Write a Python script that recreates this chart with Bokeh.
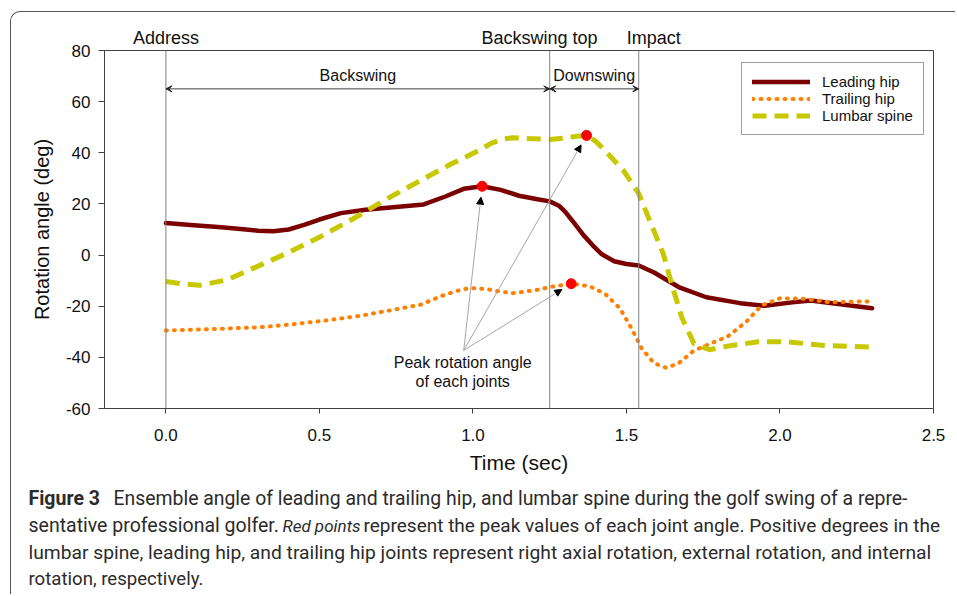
import math
from bokeh.plotting import figure
from bokeh.layouts import column
from bokeh.models import (Range1d, FixedTicker, Span, Label, Arrow, NormalHead, VeeHead,
                          Legend, LegendItem, LinearAxis)
from bokeh.embed import file_html
from bokeh.resources import INLINE

# ---------------- data ----------------
lead_t = [0.00, 0.08, 0.18, 0.26, 0.30, 0.35, 0.40, 0.45, 0.50, 0.57, 0.65, 0.74, 0.84, 0.91,
          0.97, 1.03, 1.09, 1.15, 1.21, 1.25, 1.28, 1.30, 1.33, 1.36, 1.39, 1.42, 1.46, 1.50,
          1.54, 1.59, 1.67, 1.76, 1.87, 1.95, 2.04, 2.10, 2.19, 2.30]
lead_v = [12.5, 11.8, 10.9, 10.0, 9.5, 9.3, 10.0, 11.8, 13.9, 16.4, 17.7, 18.7, 19.8, 22.9,
          25.9, 26.9, 25.5, 23.2, 21.8, 21.0, 19.3, 17.0, 12.5, 7.8, 3.8, 0.3, -2.4, -3.5,
          -4.1, -6.8, -12.5, -16.5, -18.8, -19.8, -18.5, -17.8, -19.1, -20.8]

trail_t = [0.00, 0.14, 0.31, 0.41, 0.52, 0.63, 0.74, 0.83, 0.91, 0.96, 0.99, 1.04, 1.09, 1.13,
           1.20, 1.26, 1.32, 1.38, 1.43, 1.48, 1.52, 1.55, 1.59, 1.63, 1.67, 1.72, 1.78, 1.83,
           1.89, 1.94, 2.00, 2.08, 2.16, 2.30]
trail_v = [-29.5, -29.0, -28.2, -27.1, -25.6, -23.8, -21.4, -19.4, -15.4, -13.6, -12.9, -13.2,
           -14.3, -14.9, -13.8, -12.3, -11.2, -12.2, -15.1, -21.0, -29.5, -36.6, -42.3, -44.1,
           -42.3, -37.3, -34.3, -31.8, -26.1, -19.7, -16.9, -17.1, -18.4, -18.1]

lumbar_t = [0.00, 0.05, 0.11, 0.20, 0.28, 0.39, 0.50, 0.61, 0.72, 0.83, 0.93, 1.02, 1.06, 1.10,
            1.13, 1.19, 1.25, 1.30, 1.34, 1.37, 1.40, 1.43, 1.49, 1.54, 1.58, 1.62, 1.65, 1.68,
            1.72, 1.77, 1.84, 1.93, 2.02, 2.15, 2.30]
lumbar_v = [-10.3, -11.2, -11.8, -9.7, -5.4, 0.5, 7.0, 14.2, 22.0, 29.2, 35.7, 40.9, 43.8, 45.4,
            45.9, 45.5, 45.2, 45.8, 46.5, 46.8, 44.5, 40.9, 33.1, 24.0, 12.2, 0.5, -12.5, -24.3,
            -34.7, -37.0, -35.4, -33.9, -33.9, -35.4, -36.0]

series_names = ["Leading hip", "Trailing hip", "Lumbar spine"]

peak_t = [1.03, 1.32, 1.37]
peak_v = [26.9, -11.2, 46.8]

event_names = ["Address", "Backswing top", "Impact"]
event_times = [0.0, 1.25, 1.54]
phase_names = ["Backswing", "Downswing"]

x_ticks = [0.0, 0.5, 1.0, 1.5, 2.0, 2.5]
x_tick_labels = ["0.0", "0.5", "1.0", "1.5", "2.0", "2.5"]
y_ticks = [-60, -40, -20, 0, 20, 40, 60, 80]
y_tick_labels = ["-60", "-40", "-20", "0", "20", "40", "60", "80"]

caption_bold = "Figure 3"
caption_1 = "Ensemble angle of leading and trailing hip, and lumbar spine during the golf swing of a repre-"
caption_2a = "sentative professional golfer."
caption_2b = "Red points"
caption_2c = "represent the peak values of each joint angle. Positive degrees in the"
caption_3 = "lumbar spine, leading hip, and trailing hip joints represent right axial rotation, external rotation, and internal"
caption_4 = "rotation, respectively."

peak_note = ["Peak rotation angle", "of each joints"]

# ---------------- main figure ----------------
FONT = "Liberation Sans"
TXT = "#111111"
W, H = 955, 484
FW, FH = 829, 358
ML, MT = 104, 50
MR, MB = W - ML - FW, H - MT - FH
p = figure(width=W, height=H, output_backend="svg", toolbar_location=None,
           x_range=Range1d(-0.2, 2.5), y_range=Range1d(-60, 80),
           min_border_left=ML, min_border_right=MR, min_border_top=MT, min_border_bottom=MB)
p.frame_align = False
p.background_fill_color = "white"
p.border_fill_color = "white"
p.xgrid.visible = False
p.ygrid.visible = False
p.outline_line_color = "#404040"
p.outline_line_width = 1

for ax in (p.xaxis[0], p.yaxis[0]):
    ax.axis_line_color = "#404040"
    ax.major_tick_line_color = "#404040"
    ax.minor_tick_line_color = None
    ax.major_tick_in = 0
    ax.major_label_text_font = FONT
    ax.major_label_text_font_size = "17px"
    ax.major_label_text_color = TXT
    ax.axis_label_text_font = FONT
    ax.axis_label_text_font_style = "normal"
    ax.axis_label_text_color = TXT

p.xaxis.ticker = FixedTicker(ticks=x_ticks)
p.xaxis.major_label_overrides = {t: l for t, l in zip(x_ticks, x_tick_labels)}
p.xaxis.major_tick_out = 5
p.xaxis.major_label_standoff = 15
p.xaxis.axis_label = "Time (sec)"
p.xaxis.axis_label_text_font_size = "21px"
p.xaxis.axis_label_standoff = 7

p.yaxis.ticker = FixedTicker(ticks=y_ticks)
p.yaxis.major_label_overrides = {t: l for t, l in zip(y_ticks, y_tick_labels)}
p.yaxis.major_tick_out = 6
p.yaxis.major_label_standoff = 8
p.yaxis.axis_label = "Rotation angle (deg)"
p.yaxis.axis_label_text_font_size = "20px"
p.yaxis.axis_label_standoff = 10

# event names on a bare axis above the plot (small pixel nudges as in the reference)
event_nudge_px = [0, -10, 15]
px_per_t = FW / 2.7
event_label_pos = [round(t + d / px_per_t, 3) for t, d in zip(event_times, event_nudge_px)]
top_ax = LinearAxis(ticker=FixedTicker(ticks=event_label_pos),
                    major_label_overrides={pos: n for pos, n in zip(event_label_pos, event_names)},
                    axis_line_color=None, major_tick_line_color=None, minor_tick_line_color=None,
                    major_tick_in=0, major_tick_out=0, major_label_standoff=3,
                    major_label_text_font=FONT, major_label_text_font_size="18px",
                    major_label_text_color=TXT)
p.add_layout(top_ax, "above")

# event lines
for t in event_times:
    p.add_layout(Span(location=t, dimension="height", line_color="#808080", line_width=1))

# curves
r_lead = p.line(lead_t, lead_v, line_color="#7b0000", line_width=4.5,
                line_join="round", line_cap="round")
r_trail = p.line(trail_t, trail_v, line_color="#ff8000", line_width=4,
                 line_dash="1 7", line_cap="round")
r_lumbar = p.line(lumbar_t, lumbar_v, line_color="#c8c800", line_width=5,
                  line_dash="14 8", line_join="round")

# peak points
p.scatter(peak_t, peak_v, size=10, color="#ff0000")

# phase arrows and labels
for i, name in enumerate(phase_names):
    a, b = event_times[i], event_times[i + 1]
    p.add_layout(Arrow(start=VeeHead(size=6, fill_color="#222222", line_color="#222222"),
                       end=VeeHead(size=6, fill_color="#222222", line_color="#222222"),
                       x_start=a, y_start=65, x_end=b, y_end=65,
                       line_color="#404040", line_width=1))
    p.add_layout(Label(x=(a + b) / 2, y=65, y_offset=13, text=name, text_align="center",
                       text_baseline="middle", text_font=FONT, text_font_size="16px",
                       text_color=TXT))

# peak annotation
fan_t, fan_v = 0.97, -37.3
ys_px = FH / 140
for pt, pv in zip(peak_t, peak_v):
    dx = (pt - fan_t) * px_per_t
    dy = (pv - fan_v) * ys_px
    L = math.hypot(dx, dy)
    k = (L - 11) / L
    p.add_layout(Arrow(end=NormalHead(size=7, fill_color="black", line_color="black"),
                       x_start=fan_t, y_start=fan_v,
                       x_end=fan_t + (pt - fan_t) * k, y_end=fan_v + (pv - fan_v) * k,
                       line_color="#a6a6a6", line_width=1))
for i, line in enumerate(peak_note):
    p.add_layout(Label(x=fan_t, y=fan_v, x_offset=-1, y_offset=-12 - 19 * i, text=line,
                       text_align="center", text_baseline="middle", text_font=FONT,
                       text_font_size="16px", text_color=TXT))

# legend
legend = Legend(items=[LegendItem(label=n, renderers=[r]) for n, r in
                       zip(series_names, [r_lead, r_trail, r_lumbar])],
                location=(637, 273), orientation="vertical",
                border_line_color="#404040", border_line_width=1,
                background_fill_color="white", background_fill_alpha=1,
                label_text_font=FONT, label_text_font_size="15px", label_text_color=TXT,
                glyph_width=58, glyph_height=17, label_height=17, label_standoff=12,
                padding=10, spacing=0, margin=0)
p.add_layout(legend)

# ---------------- caption figure (page pixel coordinates) ----------------
CH = 110
cf = figure(width=W, height=CH, output_backend="svg", toolbar_location=None,
            x_range=Range1d(0, W), y_range=Range1d(H + CH, H),
            x_axis_type=None, y_axis_type=None,
            min_border_left=0, min_border_right=0, min_border_top=0, min_border_bottom=0)
cf.frame_align = False
cf.xgrid.visible = False
cf.ygrid.visible = False
cf.outline_line_color = None
cf.background_fill_color = "white"
cf.border_fill_color = "white"

CF = "Roboto"
CC = "#2b2b2b"


def cap(text, px, py, size, style="normal"):
    cf.add_layout(Label(x=px, y=py, text=text, text_align="left", text_baseline="middle",
                        text_font=CF, text_font_size=size, text_font_style=style,
                        text_color=CC))


cap(caption_bold, 28, 498, "19.5px", "bold")
cap(caption_1, 113, 498, "19.4px")
cap(caption_2a, 28, 525, "19.5px")
cap(caption_2b, 282, 525, "17px", "italic")
cap(caption_2c, 363, 525, "19px")
cap(caption_3, 28, 552, "19.25px")
cap(caption_4, 28, 578, "18.6px")

border_css = """
:host::before {
  content: "";
  position: absolute;
  left: 10px; top: 11px; right: 0; bottom: 0;
  border-left: 1px solid #555555;
  border-top: 1px solid #555555;
  border-top-left-radius: 10px;
  pointer-events: none;
  z-index: 10;
}
"""
layout = column(p, cf, spacing=0, stylesheets=[border_css])

open("out.html", "w").write(file_html(layout, INLINE))
